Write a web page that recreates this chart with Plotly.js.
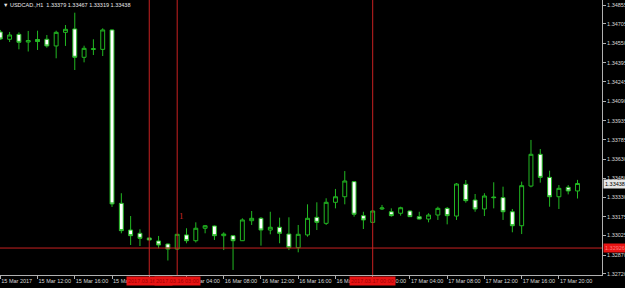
<!DOCTYPE html>
<html><head><meta charset="utf-8">
<script src="https://cdn.plot.ly/plotly-3.0.1.min.js"></script>
<style>html,body{margin:0;padding:0;background:#000;overflow:hidden}#chart{width:625px;height:288px}</style>
</head><body><div id="chart"></div>
<script>
const symbolTitle = "USDCAD.,H1";
const times = [
"2017-03-15 08:00","2017-03-15 09:00","2017-03-15 10:00","2017-03-15 11:00","2017-03-15 12:00","2017-03-15 13:00","2017-03-15 14:00","2017-03-15 15:00",
"2017-03-15 16:00","2017-03-15 17:00","2017-03-15 18:00","2017-03-15 19:00","2017-03-15 20:00","2017-03-15 21:00","2017-03-15 22:00","2017-03-15 23:00",
"2017-03-16 00:00","2017-03-16 01:00","2017-03-16 02:00","2017-03-16 03:00","2017-03-16 04:00","2017-03-16 05:00","2017-03-16 06:00","2017-03-16 07:00",
"2017-03-16 08:00","2017-03-16 09:00","2017-03-16 10:00","2017-03-16 11:00","2017-03-16 12:00","2017-03-16 13:00","2017-03-16 14:00","2017-03-16 15:00",
"2017-03-16 16:00","2017-03-16 17:00","2017-03-16 18:00","2017-03-16 19:00","2017-03-16 20:00","2017-03-16 21:00","2017-03-16 22:00","2017-03-16 23:00",
"2017-03-17 00:00","2017-03-17 01:00","2017-03-17 02:00","2017-03-17 03:00","2017-03-17 04:00","2017-03-17 05:00","2017-03-17 06:00","2017-03-17 07:00",
"2017-03-17 08:00","2017-03-17 09:00","2017-03-17 10:00","2017-03-17 11:00","2017-03-17 12:00","2017-03-17 13:00","2017-03-17 14:00","2017-03-17 15:00",
"2017-03-17 16:00","2017-03-17 17:00","2017-03-17 18:00","2017-03-17 19:00","2017-03-17 20:00","2017-03-17 21:00","2017-03-17 22:00"];
const open = [1.34641,1.34583,1.34622,1.34561,1.34581,1.34583,1.34530,1.34638,1.34665,1.34440,1.34502,1.34503,1.34657,1.33281,1.33069,1.33043,
1.33006,1.32982,1.32958,1.32918,1.33030,1.32984,1.33083,1.33101,1.33024,1.33024,1.32984,1.33143,1.33162,1.33069,1.33091,1.33037,
1.32929,1.33030,1.33170,1.33122,1.33289,1.33333,1.33453,1.33183,1.33130,1.33236,1.33214,1.33202,1.33220,1.33175,1.33156,1.33188,
1.33241,1.33180,1.33432,1.33307,1.33236,1.33331,1.33326,1.33214,1.33103,1.33418,1.33670,1.33487,1.33333,1.33408,1.33379];
const high = [1.34657,1.34641,1.34638,1.34649,1.34651,1.34617,1.34651,1.34696,1.34794,1.34532,1.34583,1.34670,1.34662,1.33361,1.33180,1.33075,
1.33010,1.33022,1.32962,1.33038,1.33083,1.33130,1.33109,1.33105,1.33051,1.33030,1.33162,1.33220,1.33172,1.33214,1.33167,1.33170,
1.33109,1.33273,1.33289,1.33321,1.33395,1.33537,1.33458,1.33214,1.33228,1.33268,1.33241,1.33254,1.33224,1.33214,1.33202,1.33254,
1.33252,1.33442,1.33466,1.33355,1.33361,1.33448,1.33413,1.33236,1.33453,1.33784,1.33712,1.33540,1.33426,1.33426,1.33467];
const low = [1.34577,1.34561,1.34503,1.34486,1.34498,1.34516,1.34432,1.34530,1.34339,1.34400,1.34458,1.34450,1.33252,1.33043,1.32950,1.32942,
1.32986,1.32924,1.32827,1.32910,1.32964,1.32970,1.33043,1.32990,1.32910,1.32752,1.32982,1.33109,1.32945,1.33035,1.32964,1.32910,
1.32892,1.33016,1.33069,1.33109,1.33241,1.33273,1.33175,1.33077,1.33125,1.33228,1.33175,1.33183,1.33172,1.33153,1.33130,1.33149,
1.33114,1.33149,1.33286,1.33214,1.33180,1.33241,1.33149,1.33051,1.33037,1.33408,1.33445,1.33254,1.33236,1.33352,1.33319];
const close = [1.34585,1.34617,1.34559,1.34573,1.34565,1.34530,1.34638,1.34662,1.34440,1.34511,1.34508,1.34657,1.33276,1.33064,1.33024,1.33003,
1.32990,1.32950,1.32918,1.33035,1.32984,1.33083,1.33103,1.33024,1.33037,1.32984,1.33149,1.33162,1.33069,1.33091,1.33043,1.32929,
1.33035,1.33162,1.33130,1.33289,1.33333,1.33458,1.33194,1.33149,1.33220,1.33244,1.33183,1.33246,1.33175,1.33156,1.33188,1.33241,
1.33183,1.33434,1.33302,1.33236,1.33339,1.33326,1.33214,1.33103,1.33421,1.33670,1.33487,1.33333,1.33400,1.33379,1.33438];

const xTickVals = ["2017-03-15 08:00","2017-03-15 12:00","2017-03-15 16:00","2017-03-15 20:00","2017-03-16 00:00","2017-03-16 04:00","2017-03-16 08:00","2017-03-16 12:00",
"2017-03-16 16:00","2017-03-16 20:00","2017-03-17 00:00","2017-03-17 04:00","2017-03-17 08:00","2017-03-17 12:00","2017-03-17 16:00","2017-03-17 20:00"];
const xTickText = ["15 Mar 2017","15 Mar 12:00","15 Mar 16:00","15 Mar 20:00","16 Mar 00:00","16 Mar 04:00","16 Mar 08:00","16 Mar 12:00",
"16 Mar 16:00","16 Mar 20:00","17 Mar 00:00","17 Mar 04:00","17 Mar 08:00","17 Mar 12:00","17 Mar 16:00","17 Mar 20:00"];
const yTickVals = [1.34855,1.34705,1.34550,1.34395,1.34245,1.34090,1.33935,1.33785,1.33630,1.33480,1.33330,1.33175,1.33025,1.32870,1.32720];

const linePrice = 1.32926;
const vLineTimes = ["2017-03-16 00:00","2017-03-16 03:00","2017-03-17 00:00"];
const vLineLabels = ["2017.03.16 00:00","2017.03.16 03:00","2017.03.17 00:00"];
const markText = "1";
const markTime = "2017-03-16 03:00";
const markPrice = 1.33180;

const GREEN = '#22b822';
const RED = '#c82020';
const FONT = 'Liberation Sans, Arial, sans-serif';
const last = times.length - 1;
const lastPrice = close[last];

const trace = {
  type: 'candlestick', x: times, open: open, high: high, low: low, close: close,
  increasing: {line: {color: GREEN, width: 1}, fillcolor: '#000000'},
  decreasing: {line: {color: GREEN, width: 1}, fillcolor: '#ffffff'},
  whiskerwidth: 0, hoverinfo: 'skip', showlegend: false
};

const shapes = [{type:'line', xref:'paper', x0:0, x1:1, yref:'y', y0:linePrice, y1:linePrice, line:{color:RED, width:1}, layer:'above'}];
vLineTimes.forEach(t => shapes.push({type:'line', xref:'x', x0:t, x1:t, yref:'paper', y0:0, y1:1, line:{color:RED, width:1}, layer:'above'}));

const annotations = [
  {xref:'paper', yref:'paper', x:0, y:1, xanchor:'left', yanchor:'top', showarrow:false, xshift:1, yshift:0,
   text:'▼ ' + symbolTitle + '  ' + [open[last], high[last], low[last], close[last]].map(v => v.toFixed(5)).join(' '),
   font:{family:FONT, size:5.5, color:'#e8e8e8'}},
  {xref:'x', yref:'y', x:markTime, y:markPrice, text:markText, showarrow:false, xshift:4,
   font:{family:'Liberation Serif, serif', size:9, color:'#d02828'}},
  {xref:'paper', yref:'y', x:1, y:lastPrice, xanchor:'left', text:lastPrice.toFixed(5), showarrow:false, xshift:1,
   bgcolor:'#e6e6e6', borderpad:1, font:{family:FONT, size:5.5, color:'#000000'}},
  {xref:'paper', yref:'y', x:1, y:linePrice, xanchor:'left', text:linePrice.toFixed(5), showarrow:false, xshift:1,
   bgcolor:'#e81414', borderpad:1, font:{family:FONT, size:5.5, color:'#ff7a7a'}}
];
vLineTimes.forEach((t, i) => annotations.push({xref:'x', yref:'paper', x:t, y:0, yanchor:'top', yshift:-1, text:vLineLabels[i],
  showarrow:false, bgcolor:'#e81414', borderpad:1, font:{family:FONT, size:5.5, color:'#a00000'}}));

const layout = {
  width: 625, height: 288,
  margin: {l:0, r:23, t:0, b:13, pad:0},
  paper_bgcolor: '#000000', plot_bgcolor: '#000000',
  showlegend: false, boxgap: 0.4,
  font: {family: FONT, size: 5.5, color: '#d8d8d8'},
  xaxis: {type:'date', range:['2017-03-15 07:58:05','2017-03-18 00:37:48'], rangeslider:{visible:false},
    showgrid:false, zeroline:false, showline:true, linecolor:'#b0b0b0', linewidth:1,
    ticks:'outside', ticklen:3, tickcolor:'#b0b0b0', tickwidth:1, tickangle:0,
    tickmode:'array', tickvals:xTickVals, ticktext:xTickText, ticklabelposition:'outside right',
    tickfont:{family:FONT, size:5.5, color:'#d8d8d8'}, fixedrange:true},
  yaxis: {side:'right', range:[1.32712, 1.348947], showgrid:false, zeroline:false,
    showline:true, linecolor:'#b0b0b0', linewidth:1, ticks:'outside', ticklen:3, tickcolor:'#b0b0b0',
    tickmode:'array', tickvals:yTickVals, ticktext:yTickVals.map(v => v.toFixed(5)),
    tickfont:{family:FONT, size:5.5, color:'#d8d8d8'}, fixedrange:true},
  shapes: shapes,
  annotations: annotations
};

Plotly.newPlot('chart', [trace], layout, {displayModeBar:false, staticPlot:true});
</script>
</body></html>
